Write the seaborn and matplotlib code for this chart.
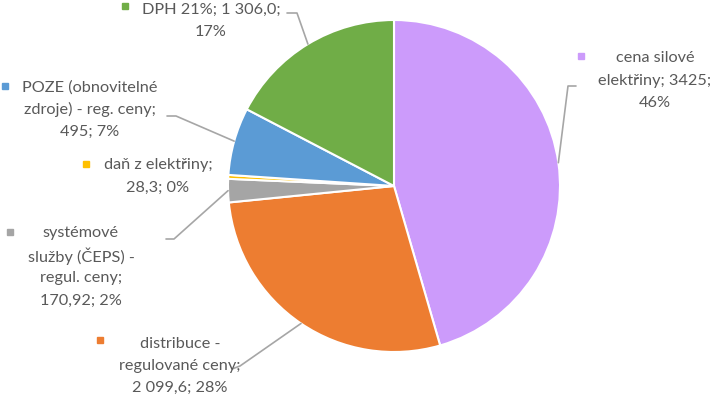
import numpy as np
import matplotlib
matplotlib.use("Agg")
import matplotlib.pyplot as plt
import seaborn as sns

# data (clockwise from 12 o'clock)
categories = ["cena silové elektřiny", "distribuce - regulované ceny",
              "systémové služby (ČEPS) - regul. ceny", "daň z elektřiny",
              "POZE (obnovitelné zdroje) - reg. ceny", "DPH 21%"]
values = [3425, 2099.6, 170.92, 28.3, 495, 1306.0]
value_labels = ["3425", "2 099,6", "170,92", "28,3", "495", "1 306,0"]
label_texts = ["cena silové\nelektřiny; {v};\n{p}",
               "distribuce -\nregulované ceny;\n{v}; {p}",
               "systémové\nslužby (ČEPS) -\nregul. ceny;\n{v}; {p}",
               "daň z elektřiny;\n{v}; {p}",
               "POZE (obnovitelné\nzdroje) - reg. ceny;\n{v}; {p}",
               "DPH 21%; {v};\n{p}"]
colors = ["#CC9BFB", "#ED7D31", "#A5A5A5", "#FFC000", "#5B9BD5", "#70AD47"]

sns.set_style("white")
plt.rcParams['font.family'] = ['Lato', 'DejaVu Sans']

W, H = 716, 397
fig = plt.figure(figsize=(W / 100, H / 100), dpi=100)
ax = fig.add_axes([0, 0, 1, 1])

cx, cy, r = 394, H - 186, 166
wedges, _ = ax.pie(values, colors=colors, startangle=90, counterclock=False,
                   center=(cx, cy), radius=r, frame=True,
                   wedgeprops=dict(edgecolor="white", linewidth=1.5))
ax.set_xlim(0, W)
ax.set_ylim(0, H)
ax.axis("off")

total = sum(values)
pcts = ["{:.0f}%".format(v / total * 100) for v in values]

# label layout in pixels (x centre, y of first line, from top)
text_pos = [(655, 57), (180, 342), (81, 232), (158, 164), (90, 86), (211, 8)]
key_pos = [(581, 56), (100, 340), (10, 232), (86, 164), (5, 86), (125, 6)]
elbows = [[(568, 86), (576, 86)], [(240, 366), (232, 369)], [(174, 239), (166, 239)],
          None, [(176, 116), (167, 116)], [(297, 13), (287, 13)]]
line_step = 22.3

for i, w in enumerate(wedges):
    txt = label_texts[i].format(v=value_labels[i], p=pcts[i])
    tx, ty = text_pos[i]
    for k, line in enumerate(txt.split("\n")):
        ax.text(tx, H - ty - k * line_step, line, ha="center", va="center_baseline",
                fontsize=11.7, color="#595959")
    kx, ky = key_pos[i]
    ax.plot(kx, H - ky, marker="s", markersize=4.8, color=colors[i], linestyle="none")
    if elbows[i] is not None:
        ang = np.deg2rad((w.theta1 + w.theta2) / 2)
        sx, sy = cx + r * np.cos(ang), cy + r * np.sin(ang)
        xs = [sx] + [p[0] for p in elbows[i]]
        ys = [sy] + [H - p[1] for p in elbows[i]]
        ax.plot(xs, ys, color="#A6A6A6", linewidth=1.2)

fig.savefig("out.png", dpi=100)
